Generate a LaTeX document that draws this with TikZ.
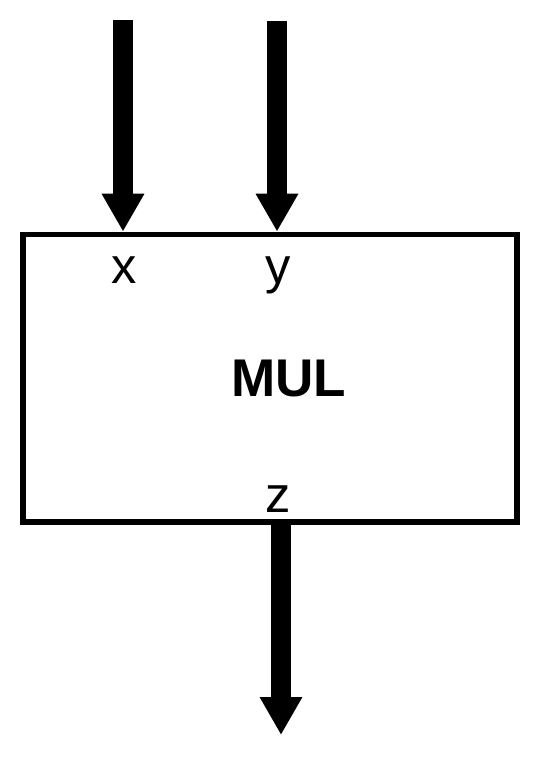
\documentclass[tikz,border=0pt]{standalone}
\usepackage{fontspec}
\setmainfont{Liberation Sans}
\usetikzlibrary{arrows.meta}
\begin{document}
\begin{tikzpicture}[x=0.75pt,y=-0.75pt,
  frame/.style={draw=black,line width=4.2pt,minimum width=370.5pt,minimum height=215.6pt,inner sep=0pt},
  portlbl/.style={inner sep=0pt,anchor=base,font=\fontsize{38}{40}\selectfont},
  titlelbl/.style={inner sep=0pt,anchor=base,font=\fontsize{39.8}{42}\selectfont\bfseries},
  bigarrow/.style={line width=15pt,-{Triangle[width=30pt,length=28.5pt]}}]
\useasboundingbox (0,0) rectangle (540,757);
\node[frame] (mul) at (270,378.2) {};
\node[titlelbl] (title) at (288.5,396.7) {MUL};
\node[portlbl] (xl) at (124,283) {x};
\node[portlbl] (yl) at (278,283) {y};
\node[portlbl] (zl) at (278,512.5) {z};
\coordinate (xtop) at (123,20);
\coordinate (ytop) at (277,21);
\coordinate (zstart) at (281,522);
\coordinate (zend) at (281,735);
\draw[bigarrow] (xtop) -- (xtop |- mul.north);
\draw[bigarrow] (ytop) -- (ytop |- mul.north);
\draw[bigarrow] (zstart) -- (zend);
\end{tikzpicture}
\end{document}
